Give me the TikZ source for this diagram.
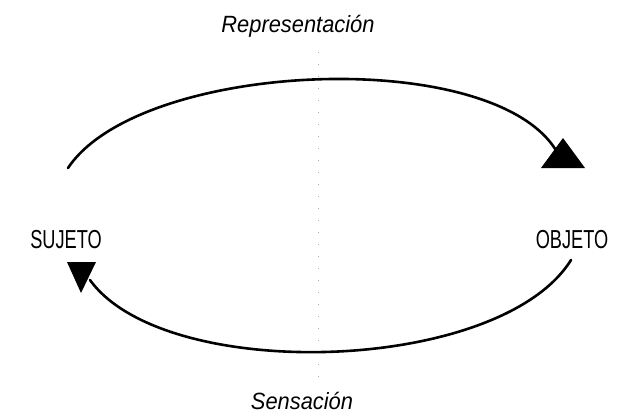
\documentclass[tikz,border=0pt]{standalone}
\usepackage{fontspec}
\setmainfont{Liberation Sans}[FakeStretch=0.7]
\newfontfamily\itfont{Liberation Sans}[FakeStretch=0.93]
\begin{document}
\begin{tikzpicture}[x=1pt,y=-1pt,
  lbl/.style={inner sep=0pt,font=\fontsize{26}{28}\selectfont},
  ilbl/.style={inner sep=0pt,font=\itfont\fontsize{23.5}{26}\selectfont\itshape},
  arc/.style={line width=2.6pt,line cap=round},
  guide/.style={gray!70,line width=0.9pt,dash pattern=on 1pt off 11pt},
  head/.style={fill=black}]
\useasboundingbox (0,0) rectangle (620,413);
\node[ilbl] (rep) at (298,26) {Representación};
\node[ilbl] (sen) at (302,401) {Sensación};
\node[lbl] (suj) at (66,240) {SUJETO};
\node[lbl] (obj) at (572,240) {OBJETO};
\coordinate (gt) at (318,52);
\coordinate (gb) at (318,388);
\draw[guide] (gt) -- (gb);
\coordinate (a1) at (68,168);
\coordinate (a2) at (557,152);
\coordinate (b1) at (571,260);
\coordinate (b2) at (90,280);
\draw[arc] (a1) .. controls (140,60) and (495,45) .. (a2);
\draw[arc] (b1) .. controls (500,374) and (165,384) .. (b2);
\fill[head] (563,138) -- (585,168) -- (541,168) -- cycle;
\fill[head] (67,262) -- (96,262) -- (81,293) -- cycle;
\end{tikzpicture}
\end{document}
